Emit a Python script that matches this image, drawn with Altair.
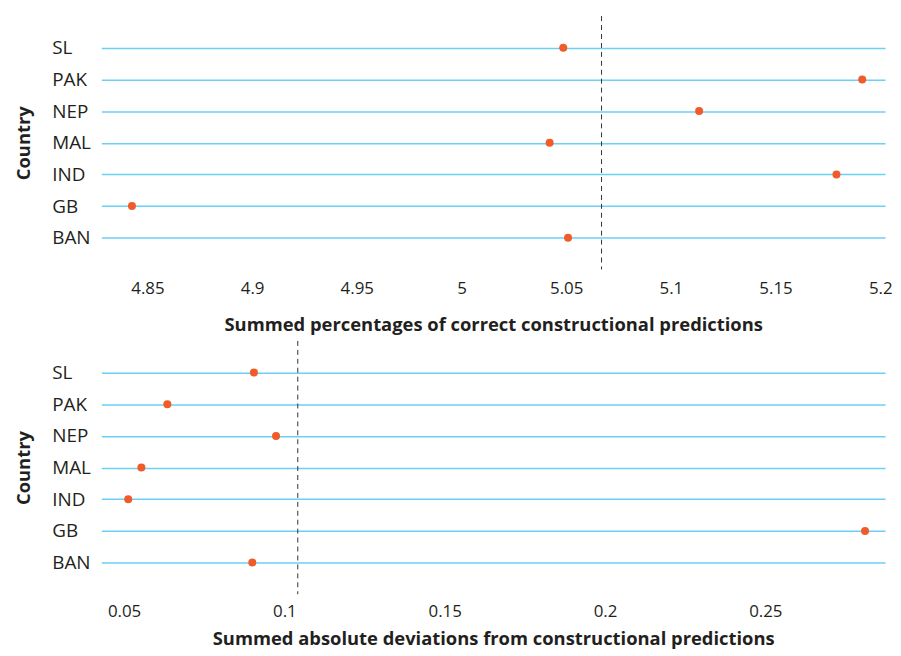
import altair as alt
import pandas as pd

countries = ["SL", "PAK", "NEP", "MAL", "IND", "GB", "BAN"]
pct_correct = [5.0486, 5.1914, 5.1135, 5.0421, 5.1791, 4.8426, 5.0509]
abs_dev = [0.0905, 0.0635, 0.0974, 0.0554, 0.0513, 0.2811, 0.0900]
top_ticks = [4.85, 4.9, 4.95, 5.0, 5.05, 5.1, 5.15, 5.2]
bottom_ticks = [0.05, 0.1, 0.15, 0.2, 0.25]

top_df = pd.DataFrame({"Country": countries, "value": pct_correct})
bot_df = pd.DataFrame({"Country": countries, "value": abs_dev})

FONT = "Open Sans"
TXT = "#231f20"
GRID = "#6ccff6"
DOT = "#f15a29"
W = 789


def panel(df, domain, ticks, title, h, lab_pad, title_pad):
    yenc = alt.Y(
        "Country:N",
        sort=countries,
        scale=alt.Scale(type="point", padding=1),
        axis=alt.Axis(
            title="Country",
            grid=True,
            gridColor=GRID,
            gridWidth=1.5,
            domain=False,
            ticks=False,
            labelAlign="left",
            labelPadding=50,
            labelFontSize=19,
            labelColor=TXT,
            labelFont=FONT,
            titleFont=FONT,
            titleFontSize=18.5,
            titleFontWeight="bold",
            titleColor=TXT,
            titlePadding=18,
        ),
    )
    xenc = alt.X(
        "value:Q",
        scale=alt.Scale(domain=domain, nice=False, zero=False),
        axis=alt.Axis(
            title=title,
            values=ticks,
            format=".2~f",
            grid=False,
            domain=False,
            ticks=False,
            labelPadding=lab_pad,
            labelFontSize=17,
            labelColor=TXT,
            labelFont=FONT,
            titleFont=FONT,
            titleFontSize=18.5,
            titleFontWeight="bold",
            titleColor=TXT,
            titlePadding=title_pad,
        ),
    )
    pts = alt.Chart(df).mark_circle(size=65, opacity=1, color=DOT).encode(x=xenc, y=yenc)
    rule = (
        alt.Chart(df)
        .mark_rule(color="#333333", strokeDash=[5, 4], strokeWidth=1)
        .encode(x=alt.X("mean(value):Q"))
    )
    return alt.layer(rule, pts).properties(width=W, height=h)


top = panel(top_df, [4.8280, 5.2023], top_ticks,
            "Summed percentages of correct constructional predictions", 255, 11, 20)
bottom = panel(bot_df, [0.04292, 0.28734], bottom_ticks,
               "Summed absolute deviations from constructional predictions", 255, 9, 11)

chart = (
    alt.vconcat(top, bottom, spacing=5)
    .properties(padding={"left": 7, "top": 5, "right": 0, "bottom": 0})
    .configure_view(stroke=None)
)

chart.save("out.html", embed_options={"renderer": "svg", "actions": False})
